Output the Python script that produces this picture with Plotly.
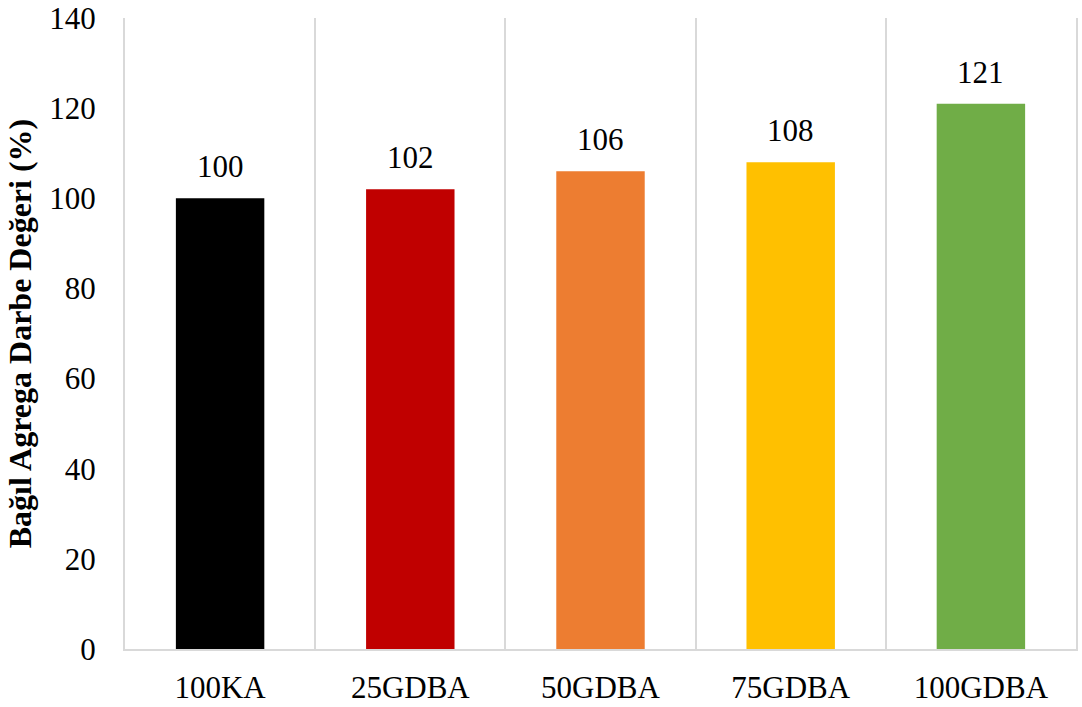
import plotly.graph_objects as go

categories = ["100KA", "25GDBA", "50GDBA", "75GDBA", "100GDBA"]
values = [100, 102, 106, 108, 121]
colors = ["#000000", "#c00000", "#ed7d31", "#ffc000", "#70ad47"]
y_ticks = [0, 20, 40, 60, 80, 100, 120, 140]

FONT = "Liberation Serif"
GRID = "#d9d9d9"

fig = go.Figure(
    go.Bar(
        x=categories,
        y=values,
        marker=dict(color=colors, line=dict(width=0)),
        width=0.465,
        hoverinfo="x+y",
    )
)

# value labels above each bar
for c, v in zip(categories, values):
    fig.add_annotation(
        x=c, y=v, text=str(v), showarrow=False,
        yanchor="bottom", yshift=12,
        font=dict(family=FONT, size=31, color="#000000"),
    )

fig.update_layout(
    width=1082,
    height=707,
    margin=dict(l=125, r=6, t=18, b=58),
    plot_bgcolor="#ffffff",
    paper_bgcolor="#ffffff",
    showlegend=False,
    font=dict(family=FONT, size=31, color="#000000"),
    xaxis=dict(
        type="category",
        automargin=False,
        tickson="boundaries",
        showgrid=True,
        gridcolor=GRID,
        gridwidth=2,
        showline=True,
        linecolor=GRID,
        linewidth=2,
        ticks="",
        ticklabelstandoff=10,
        tickfont=dict(family=FONT, size=31),
        range=[-0.5, 4.5],
    ),
    yaxis=dict(
        range=[0, 140],
        automargin=False,
        tickvals=y_ticks,
        showgrid=False,
        zeroline=False,
        showline=True,
        mirror=True,
        linecolor=GRID,
        linewidth=2,
        ticks="",
        ticklabelstandoff=21,
        tickfont=dict(family=FONT, size=31),
        title=dict(
            text="<b>Bağıl Agrega Darbe Değeri (%)</b>",
            font=dict(family=FONT, size=32),
            standoff=8,
        ),
    ),
)

fig.write_html("out.html")
